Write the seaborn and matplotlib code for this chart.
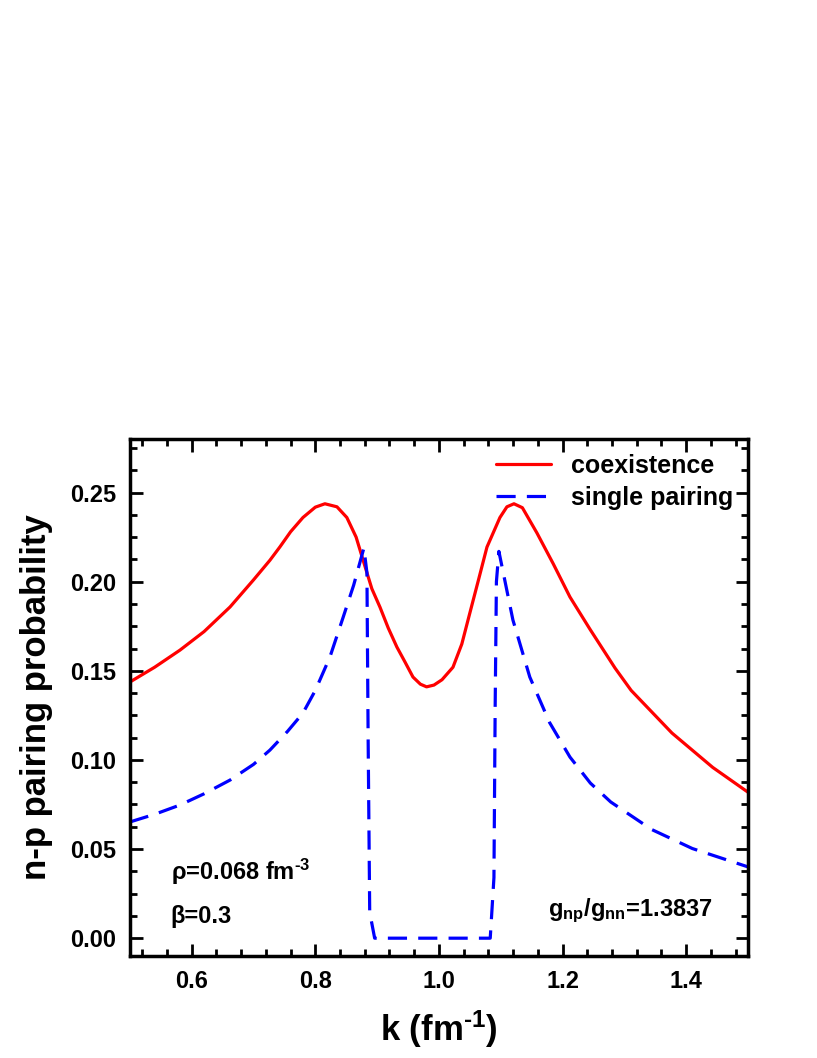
import numpy as np
import pandas as pd
import seaborn as sns
from matplotlib import pyplot as plt
from matplotlib.ticker import MultipleLocator

# values
k_coex = [0.500, 0.540, 0.581, 0.620, 0.662, 0.700, 0.7265, 0.7427, 0.760, 0.780,
          0.800, 0.8155, 0.835, 0.851, 0.866, 0.880, 0.8915, 0.9045, 0.918, 0.932,
          0.945, 0.958, 0.970, 0.980, 0.992, 1.005, 1.0227, 1.037, 1.050, 1.064,
          1.0777, 1.0987, 1.110, 1.1214, 1.135, 1.1586, 1.185, 1.212, 1.2446, 1.285,
          1.311, 1.377, 1.443, 1.500]
p_coex = [0.1437, 0.1520, 0.1616, 0.1720, 0.1858, 0.2010, 0.2120, 0.2195, 0.2280, 0.2360,
          0.2418, 0.2437, 0.2420, 0.2360, 0.2250, 0.2090, 0.1960, 0.1858, 0.1740, 0.1633,
          0.1550, 0.1465, 0.1425, 0.1410, 0.1420, 0.1450, 0.1520, 0.1650, 0.1824, 0.2010,
          0.2194, 0.2360, 0.2420, 0.2437, 0.2415, 0.2273, 0.2100, 0.1914, 0.1732, 0.1515,
          0.1390, 0.1151, 0.0958, 0.0819]

k_single = [0.500, 0.540, 0.581, 0.620, 0.662, 0.700, 0.7265, 0.755, 0.780, 0.800,
            0.8236, 0.845, 0.862, 0.8786, 0.8835, 0.8855, 0.888, 0.896, 1.083, 1.089,
            1.091, 1.093, 1.097, 1.1197, 1.147, 1.179, 1.212, 1.245, 1.278, 1.344,
            1.410, 1.500]
p_single = [0.0652, 0.0695, 0.0747, 0.0810, 0.0887, 0.0975, 0.1055, 0.1160, 0.1263, 0.1390,
            0.1577, 0.1800, 0.1980, 0.2189, 0.2050, 0.1100, 0.0145, 0.0000, 0.0000, 0.0340,
            0.1306, 0.2000, 0.2170, 0.1785, 0.1465, 0.1210, 0.1016, 0.0870, 0.0764, 0.0610,
            0.0503, 0.0400]

df = pd.concat([
    pd.DataFrame({"k": k_coex, "p": p_coex, "curve": "coexistence"}),
    pd.DataFrame({"k": k_single, "p": p_single, "curve": "single pairing"}),
])

sns.set_style("ticks")
plt.rcParams['font.family'] = ['Liberation Sans', 'DejaVu Sans']
plt.rcParams['font.weight'] = 'bold'
plt.rcParams['text.color'] = 'black'
plt.rcParams['axes.labelcolor'] = 'black'
plt.rcParams['xtick.color'] = 'black'
plt.rcParams['ytick.color'] = 'black'
plt.rcParams['axes.edgecolor'] = 'black'
plt.rcParams['mathtext.fontset'] = 'custom'
plt.rcParams['mathtext.rm'] = 'Liberation Sans:bold'
plt.rcParams['mathtext.bf'] = 'Liberation Sans:bold'
plt.rcParams['mathtext.default'] = 'bf'

fig = plt.figure(figsize=(8.17, 10.58), dpi=100)
ax = fig.add_axes([0.159, 0.0964, 0.7565, 0.4886])

sns.lineplot(data=df, x="k", y="p", hue="curve", style="curve",
             palette={"coexistence": "#ff0000", "single pairing": "#0000ff"},
             dashes={"coexistence": "", "single pairing": (6, 3.5)},
             linewidth=2.3, sort=False, estimator=None, ax=ax)

ax.set_xlim(0.5, 1.5)
ax.set_ylim(-0.01, 0.28)
ax.xaxis.set_minor_locator(MultipleLocator(0.04))
ax.yaxis.set_minor_locator(MultipleLocator(0.0125))
ax.set_xticks([0.6, 0.8, 1.0, 1.2, 1.4])
ax.set_yticks([0.0, 0.05, 0.10, 0.15, 0.20, 0.25])
ax.set_yticklabels(["0.00", "0.05", "0.10", "0.15", "0.20", "0.25"])
ax.tick_params(which="both", direction="in", top=True, right=True, width=2,
               labelsize=17, pad=10)
ax.tick_params(which="major", length=9)
ax.tick_params(which="minor", length=5)
for s in ax.spines.values():
    s.set_linewidth(2.5)
    s.set_color("black")

ax.set_xlabel("k (fm$^{\\text{-1}}$)", fontsize=25, fontweight="bold", labelpad=11)
ax.set_ylabel("n-p pairing probability", fontsize=25, fontweight="bold", labelpad=12)

leg = ax.legend(loc="upper right", frameon=False, fontsize=18, handlelength=2.2,
                borderaxespad=0.2, labelspacing=0.3, handletextpad=0.8)
for t in leg.get_texts():
    t.set_fontweight("bold")

ax.text(0.566, 0.0326, "ρ=0.068 fm$^{\\text{-3}}$", fontsize=17, fontweight="bold")
ax.text(0.566, 0.0085, "β=0.3", fontsize=17, fontweight="bold")
ax.text(1.4434, 0.0124, "g$_{np}$/g$_{nn}$=1.3837", fontsize=17, fontweight="bold",
        ha="right")

fig.savefig("out.png", dpi=100)
